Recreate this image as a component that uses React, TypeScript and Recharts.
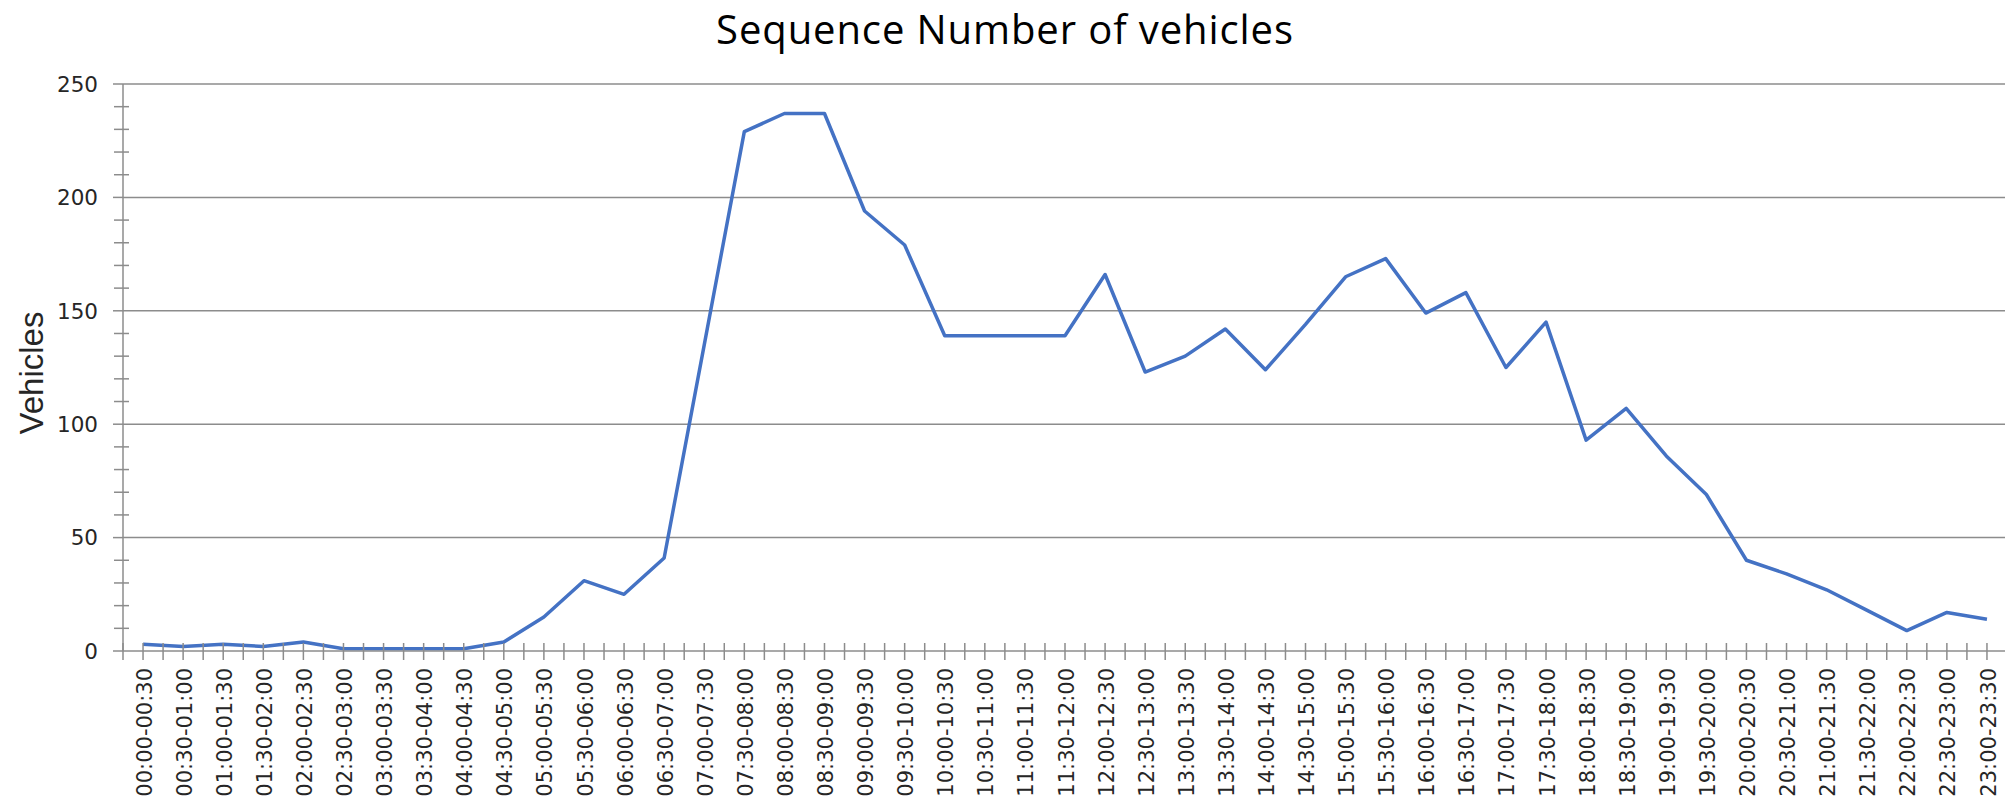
import React from "react";
import { LineChart, Line, XAxis, YAxis, ReferenceLine } from "recharts";

// half-hour slots
const slots = [
  "00:00-00:30", "00:30-01:00", "01:00-01:30", "01:30-02:00", "02:00-02:30",
  "02:30-03:00", "03:00-03:30", "03:30-04:00", "04:00-04:30", "04:30-05:00",
  "05:00-05:30", "05:30-06:00", "06:00-06:30", "06:30-07:00", "07:00-07:30",
  "07:30-08:00", "08:00-08:30", "08:30-09:00", "09:00-09:30", "09:30-10:00",
  "10:00-10:30", "10:30-11:00", "11:00-11:30", "11:30-12:00", "12:00-12:30",
  "12:30-13:00", "13:00-13:30", "13:30-14:00", "14:00-14:30", "14:30-15:00",
  "15:00-15:30", "15:30-16:00", "16:00-16:30", "16:30-17:00", "17:00-17:30",
  "17:30-18:00", "18:00-18:30", "18:30-19:00", "19:00-19:30", "19:30-20:00",
  "20:00-20:30", "20:30-21:00", "21:00-21:30", "21:30-22:00", "22:00-22:30",
  "22:30-23:00", "23:00-23:30",
];

const vehicles = [
  3, 2, 3, 2, 4, 1, 1, 1, 1, 4,
  15, 31, 25, 41, 135, 229, 237, 237, 194, 179,
  139, 139, 139, 139, 166, 123, 130, 142, 124, 144,
  165, 173, 149, 158, 125, 145, 93, 107, 86, 69,
  40, 34, 27, 18, 9, 17, 14,
];

const yTicks = [
  0, 10, 20, 30, 40, 50, 60, 70, 80, 90, 100, 110, 120, 130, 140, 150,
  160, 170, 180, 190, 200, 210, 220, 230, 240, 250,
];
const gridValues = [50, 100, 150, 200, 250];

const data = slots.map((slot, i) => ({ slot, vehicles: vehicles[i] }));

const W = 2010;
const H = 801;
const PLOT_LEFT = 123;
const PLOT_RIGHT = 2007;
const PLOT_TOP = 84;
const X_AXIS_H = 150;
const STEP = (PLOT_RIGHT - PLOT_LEFT) / slots.length;

const AXIS = "#8c8c8c";
const TEXT = "#262626";
const TICK_FONT = "'DejaVu Sans', Verdana, sans-serif";

const XTick = (props: any) => {
  const { x, y, payload, index } = props;
  const half = STEP / 2;
  const last = index === slots.length - 1;
  return (
    <g>
      <line x1={x - half} x2={x - half} y1={y - 8} y2={y + 9} stroke={AXIS} strokeWidth={1.5} />
      <line x1={x} x2={x} y1={y - 8} y2={y + 9} stroke={AXIS} strokeWidth={1.5} />
      {last && (
        <line x1={x + half} x2={x + half} y1={y - 8} y2={y + 9} stroke={AXIS} strokeWidth={1.5} />
      )}
      <text
        transform={`translate(${x + 1},${y + 17}) rotate(-90)`}
        textAnchor="end"
        dy="0.36em"
        fontSize={21}
        fontFamily={TICK_FONT}
        fill={TEXT}
      >
        {payload.value}
      </text>
    </g>
  );
};

const YTick = (props: any) => {
  const { x, y, payload } = props;
  const v = payload.value;
  if (v % 50 === 0) {
    return (
      <g>
        <line x1={x - 10} x2={x} y1={y} y2={y} stroke={AXIS} strokeWidth={1.5} />
        <text
          x={x - 25}
          y={y}
          dy="0.36em"
          textAnchor="end"
          fontSize={21.5}
          fontFamily={TICK_FONT}
          fill={TEXT}
        >
          {v}
        </text>
      </g>
    );
  }
  return <line x1={x - 9} x2={x + 6} y1={y} y2={y} stroke={AXIS} strokeWidth={1.5} />;
};

const YLabel = () => (
  <text
    x={31}
    y={373}
    transform="rotate(-90, 31, 373)"
    textAnchor="middle"
    dominantBaseline="central"
    fontSize={33}
    fontFamily="'Liberation Sans', Arial, sans-serif"
    fill={TEXT}
  >
    Vehicles
  </text>
);

export default function App() {
  return (
    <div
      style={{
        position: "absolute",
        left: 0,
        top: 0,
        width: 2005,
        height: 801,
        overflow: "hidden",
        background: "#fff",
      }}
    >
      <div
        style={{
          position: "absolute",
          left: 0,
          top: 0.5,
          width: W,
          textAlign: "center",
          fontFamily: "'Open Sans', sans-serif",
          fontSize: 40,
          letterSpacing: "0.9px",
          lineHeight: "normal",
          color: "#000",
          zIndex: 2,
        }}
      >
        Sequence Number of vehicles
      </div>
      <LineChart
        width={W}
        height={H}
        data={data}
        margin={{ top: PLOT_TOP, right: W - PLOT_RIGHT, bottom: 0, left: 0 }}
      >
        {gridValues.map((v) => (
          <ReferenceLine key={v} y={v} stroke={AXIS} strokeWidth={1.5} />
        ))}
        <XAxis
          dataKey="slot"
          interval={0}
          height={X_AXIS_H}
          padding={{ left: STEP / 2, right: STEP / 2 }}
          tickSize={0}
          tickMargin={0}
          tickLine={false}
          axisLine={{ stroke: AXIS, strokeWidth: 1.5 }}
          tick={<XTick />}
        />
        <YAxis
          width={PLOT_LEFT}
          domain={[0, 250]}
          ticks={yTicks}
          interval={0}
          tickSize={0}
          tickMargin={0}
          tickLine={false}
          axisLine={{ stroke: AXIS, strokeWidth: 1.5 }}
          tick={<YTick />}
          label={<YLabel />}
        />
        <Line
          type="linear"
          dataKey="vehicles"
          stroke="#4472C4"
          strokeWidth={3.5}
          dot={false}
          strokeLinejoin="round"
          isAnimationActive={false}
        />
      </LineChart>
    </div>
  );
}
